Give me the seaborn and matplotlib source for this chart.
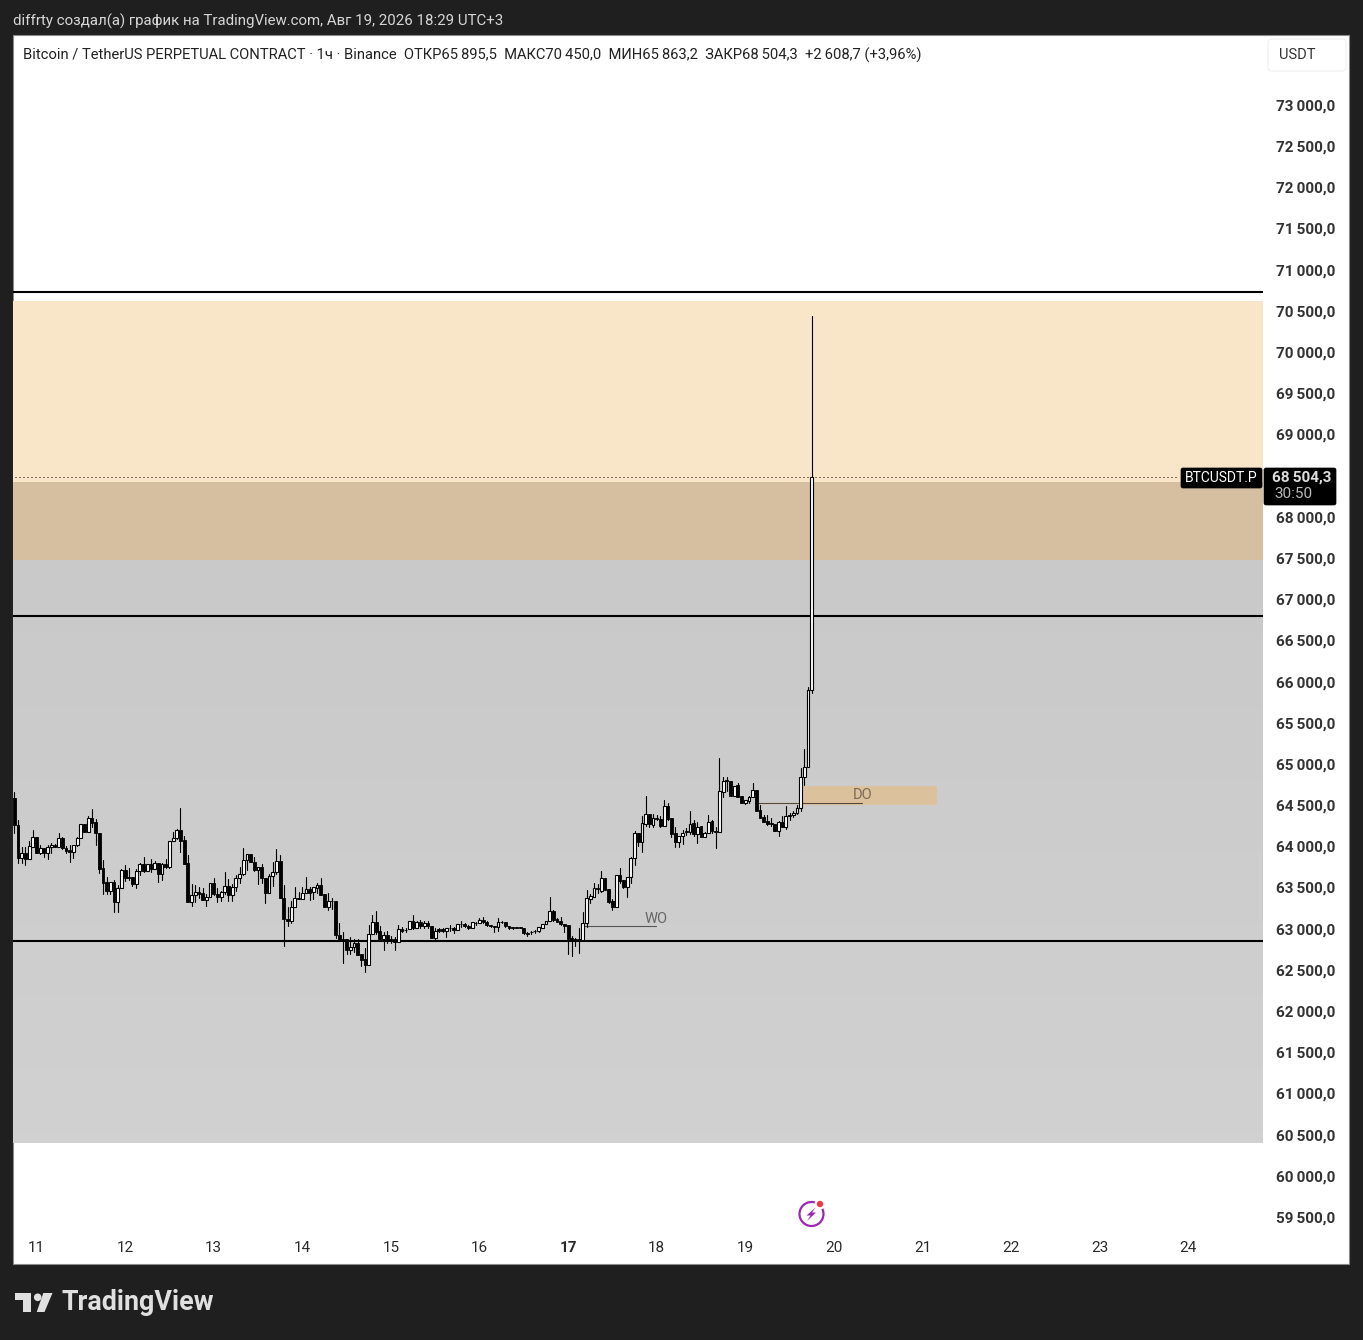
import numpy as np
import pandas as pd
import matplotlib
matplotlib.use("Agg")
import matplotlib.pyplot as plt
import seaborn as sns
from matplotlib.colors import LinearSegmentedColormap
from matplotlib.patches import Arc, Circle, FancyBboxPatch, Polygon, Rectangle

# hourly candles, first one opens on day 10 at 18:00
FIRST_DAY = 10.75

opens = [
    64583, 64259, 63863, 63915, 63850, 63988, 64110, 63923, 63976, 63923,
    63988, 64012, 63996, 64097, 63976, 63952, 63927, 64012, 64097, 64267,
    64178, 64340, 64292, 64158, 63733, 63567, 63462, 63567, 63328, 63490,
    63713, 63628, 63624, 63547, 63697, 63782, 63705, 63782, 63729, 63794,
    63668, 63786, 63753, 64061, 64097, 64194, 64077, 63794, 63328, 63405,
    63442, 63430, 63345, 63381, 63551, 63426, 63389, 63442, 63515, 63409,
    63502, 63612, 63660, 63830, 63903, 63814, 63717, 63745, 63620, 63438,
    63644, 63685, 63818, 63369, 63122, 63098, 63267, 63377, 63365, 63429,
    63478, 63441, 63498, 63530, 63417, 63267, 63340, 63340, 62927, 62879,
    62879, 62741, 62774, 62822, 62689, 62628, 62559, 62936, 63085, 62972,
    62871, 62919, 62879, 62879, 62838, 62992, 62988, 62992, 63097, 63012,
    63077, 63037, 63065, 63033, 62887, 62992, 62992, 62976, 63012, 63008,
    62988, 63057, 63057, 63033, 63004, 63073, 63069, 63101, 63081, 63041,
    63029, 63025, 63081, 63081, 63037, 63017, 63017, 63017, 63012, 62952,
    62964, 62976, 62968, 63012, 63061, 63097, 63211, 63118, 63093, 63061,
    63041, 62883, 62875, 62871, 62859, 63065, 63365, 63389, 63490, 63462,
    63620, 63482, 63332, 63268, 63648, 63591, 63510, 63624, 63854, 64162,
    64057, 64271, 64389, 64263, 64340, 64328, 64247, 64486, 64340, 64158,
    64057, 64130, 64186, 64178, 64279, 64154, 64243, 64117, 64158, 64308,
    64186, 64170, 64664, 64801, 64789, 64615, 64741, 64611, 64526, 64554,
    64599, 64688, 64441, 64356, 64308, 64279, 64271, 64190, 64291, 64239,
    64376, 64376, 64401, 64461, 64838, 64967, 65895.5,
]
closes = [
    64259, 63863, 63915, 63850, 64000, 64110, 63923, 63976, 63923, 63988,
    64012, 63996, 64097, 63976, 63944, 63927, 64012, 64097, 64267, 64178,
    64340, 64280, 64158, 63729, 63559, 63462, 63567, 63328, 63490, 63713,
    63620, 63620, 63539, 63697, 63782, 63701, 63782, 63725, 63794, 63664,
    63782, 63753, 64061, 64097, 64194, 64069, 63790, 63328, 63405, 63442,
    63421, 63345, 63381, 63551, 63426, 63385, 63442, 63515, 63409, 63502,
    63612, 63660, 63830, 63903, 63814, 63713, 63745, 63612, 63438, 63644,
    63685, 63818, 63369, 63122, 63098, 63267, 63369, 63365, 63429, 63478,
    63437, 63502, 63530, 63413, 63267, 63332, 63332, 62927, 62855, 62863,
    62741, 62774, 62822, 62681, 62620, 62559, 62936, 63085, 62960, 62871,
    62919, 62863, 62855, 62838, 62992, 62976, 62980, 63097, 63008, 63077,
    63037, 63065, 63037, 62887, 62976, 62976, 62976, 63012, 63008, 62988,
    63053, 63053, 63033, 63004, 63077, 63065, 63101, 63077, 63041, 63037,
    63025, 63077, 63077, 63033, 63004, 63012, 63012, 63012, 62952, 62936,
    62960, 62968, 63017, 63061, 63097, 63211, 63105, 63085, 63057, 63029,
    62875, 62859, 62859, 62859, 63065, 63369, 63393, 63490, 63482, 63612,
    63474, 63320, 63268, 63648, 63575, 63502, 63624, 63858, 64158, 64057,
    64279, 64389, 64267, 64340, 64336, 64247, 64486, 64336, 64154, 64057,
    64130, 64166, 64174, 64275, 64154, 64239, 64117, 64158, 64300, 64182,
    64174, 64672, 64797, 64789, 64615, 64733, 64603, 64522, 64558, 64599,
    64684, 64433, 64348, 64300, 64271, 64271, 64190, 64291, 64239, 64364,
    64368, 64401, 64461, 64838, 64967, 65895, 68484,
]
highs = [
    64664, 64320, 63988, 63988, 64065, 64199, 64110, 64016, 63976, 64016,
    64037, 64029, 64158, 64118, 64004, 64016, 64012, 64110, 64267, 64267,
    64368, 64449, 64328, 64158, 63834, 63624, 63567, 63591, 63531, 63721,
    63774, 63733, 63624, 63721, 63802, 63875, 63782, 63846, 63826, 63794,
    63794, 63842, 64061, 64170, 64207, 64462, 64126, 63891, 63539, 63531,
    63510, 63490, 63421, 63551, 63620, 63490, 63462, 63693, 63600, 63543,
    63652, 63745, 63976, 63903, 63903, 63867, 63745, 63782, 63620, 63660,
    63806, 63964, 63895, 63527, 63260, 63337, 63502, 63450, 63502, 63624,
    63510, 63510, 63559, 63611, 63417, 63429, 63369, 63340, 63065, 62964,
    62879, 62895, 62871, 62871, 62689, 62762, 63045, 63166, 63219, 63033,
    62964, 62976, 62911, 62903, 63045, 63017, 63008, 63097, 63166, 63097,
    63105, 63093, 63093, 63033, 63008, 63004, 63012, 63012, 63041, 63025,
    63053, 63097, 63065, 63045, 63077, 63085, 63126, 63146, 63089, 63045,
    63037, 63126, 63093, 63085, 63037, 63025, 63021, 63021, 63012, 62960,
    62972, 62988, 63025, 63061, 63097, 63381, 63227, 63126, 63146, 63061,
    63041, 62911, 62883, 63004, 63207, 63470, 63421, 63551, 63543, 63705,
    63620, 63482, 63356, 63648, 63733, 63591, 63624, 63866, 64190, 64162,
    64368, 64615, 64389, 64393, 64380, 64368, 64563, 64530, 64340, 64231,
    64130, 64198, 64219, 64433, 64320, 64300, 64243, 64178, 64380, 64320,
    64239, 65068, 64838, 64838, 64789, 64733, 64765, 64611, 64558, 64611,
    64773, 64688, 64502, 64380, 64380, 64340, 64271, 64308, 64368, 64490,
    64401, 64433, 64502, 64947, 65178, 65930, 70440,
]
lows = [
    64166, 63802, 63802, 63774, 63850, 63988, 63923, 63903, 63867, 63842,
    63923, 63988, 63988, 63964, 63923, 63814, 63863, 64000, 64097, 64170,
    64178, 64239, 64012, 63672, 63417, 63421, 63421, 63207, 63207, 63490,
    63583, 63591, 63519, 63490, 63656, 63693, 63705, 63693, 63721, 63571,
    63591, 63733, 63733, 64061, 64085, 63936, 63790, 63328, 63276, 63328,
    63369, 63345, 63276, 63381, 63409, 63328, 63340, 63421, 63340, 63340,
    63462, 63559, 63648, 63713, 63814, 63705, 63543, 63551, 63308, 63438,
    63523, 63664, 63369, 62794, 63037, 63074, 63267, 63356, 63356, 63429,
    63348, 63356, 63429, 63413, 63267, 63227, 63235, 62883, 62855, 62588,
    62693, 62693, 62721, 62681, 62547, 62478, 62559, 62936, 62936, 62871,
    62741, 62822, 62822, 62741, 62838, 62960, 62964, 62992, 63000, 63004,
    63012, 63004, 63004, 62887, 62871, 62964, 62964, 62895, 62976, 62952,
    62988, 63025, 63025, 62996, 63004, 63045, 63065, 63073, 63037, 63025,
    62964, 62976, 63065, 63025, 62996, 63000, 63008, 63008, 62936, 62911,
    62936, 62952, 62964, 63012, 63057, 63097, 63097, 63081, 63045, 62964,
    62693, 62673, 62790, 62709, 62859, 63025, 63308, 63389, 63429, 63446,
    63474, 63308, 63227, 63268, 63551, 63490, 63389, 63551, 63773, 64004,
    63935, 64247, 64239, 64239, 64320, 64239, 64247, 64320, 64109, 63988,
    63996, 64028, 64138, 64150, 64126, 64036, 64109, 64109, 64158, 64166,
    63976, 64170, 64603, 64676, 64615, 64615, 64603, 64522, 64514, 64522,
    64599, 64433, 64348, 64300, 64259, 64247, 64190, 64125, 64239, 64206,
    64320, 64352, 64393, 64433, 64745, 64967, 65863.2,
]

day_ticks = list(range(11, 25))
# 68 500 is hidden behind the price tag
price_ticks = [p for p in range(59500, 73500, 500) if p != 68500]
level_lines = [70730, 66796, 62851]
zone_cream = (67476, 70620)
zone_gray = (60399, 68429)
last_price = 68484
last_label = "68\u2009504,3"
wo_level = (17.18, 17.99, 63033)
do_level = (19.11, 20.32, 64526)
do_box = (19.63, 21.16, 64502, 64733)

header = "diffrty создал(а) график на TradingView.com, Авг 19, 2026 18:29 UTC+3"
legend = ("Bitcoin / TetherUS PERPETUAL CONTRACT · 1ч · Binance  ОТКР65\u2009895,5  "
          "МАКС70\u2009450,0  МИН65\u2009863,2  ЗАКР68\u2009504,3  +2\u2009608,7 (+3,96%)")

W, H = 1363, 1340
DARK = "#1f1f1f"


def fmt_price(v):
    return f"{v:,.1f}".replace(",", "\u2009").replace(".", ",")


sns.set_theme(style="white")
plt.rcParams["font.family"] = ["Roboto", "DejaVu Sans"]

fig = plt.figure(figsize=(W / 100, H / 100), dpi=100, facecolor=DARK)

# background panel, everything here is in screen pixels
bg = fig.add_axes([0, 0, 1, 1], zorder=0)
bg.set_xlim(0, W)
bg.set_ylim(H, 0)
bg.axis("off")
bg.add_patch(Rectangle((13, 35), 1336, 1229, fc="white", ec="#8a8a8a", lw=0.8))

# main pane
left, right, top, bottom = 13, 1263, 35, 1235
ax = fig.add_axes([left / W, 1 - bottom / H, (right - left) / W, (bottom - top) / H],
                  zorder=1, facecolor="none")

days = FIRST_DAY + np.arange(len(opens)) / 24
df = pd.DataFrame({"day": days, "open": opens, "high": highs, "low": lows, "close": closes})
wicks = df.melt(id_vars="day", value_vars=["high", "low"], value_name="price")

ax.axhspan(*zone_cream, color="#f9e5c8", lw=0, zorder=0)
gradient = LinearSegmentedColormap.from_list("pane", ["#c9c9c9", "#d1d1d1"])
ax.imshow(np.linspace(0, 1, 64).reshape(-1, 1), cmap=gradient, aspect="auto", zorder=0.5,
          extent=(10, 26, zone_gray[0], zone_cream[0]), origin="upper")
ax.axhspan(zone_cream[0], zone_gray[1], color="#d5bfa0", lw=0, zorder=0.6)

for lvl in level_lines:
    ax.axhline(lvl, color="black", lw=1.5, zorder=1)
ax.plot([10, 23.9], [last_price, last_price], color="black", lw=0.72, ls=(0, (1, 3)), zorder=1)

ax.add_patch(Rectangle((do_box[0], do_box[2]), do_box[1] - do_box[0], do_box[3] - do_box[2],
                       fc="#dcc19d", lw=0, zorder=1))
ax.plot(wo_level[:2], [wo_level[2]] * 2, color="#555555", lw=0.8, zorder=1.5)
ax.plot(do_level[:2], [do_level[2]] * 2, color="#5a4a3a", lw=0.8, zorder=1.5)
ax.text(wo_level[1], wo_level[2] + 2, "WO", color="#666666", fontsize=10.5, ha="center", va="bottom")
ax.text(do_level[1], do_box[3] - 22, "DO", color="#7c6a55", fontsize=10.5, ha="center", va="top")

sns.lineplot(data=wicks, x="day", y="price", units="day", estimator=None, sort=False,
             color="black", lw=0.8, legend=False, ax=ax, zorder=2)

up = df[df["close"] >= df["open"]]
down = df[df["close"] < df["open"]]
ax.bar(down["day"], down["open"] - down["close"], bottom=down["close"], width=0.032,
       color="black", edgecolor="black", lw=0.6, zorder=3)
ax.bar(up["day"], up["close"] - up["open"], bottom=up["open"], width=0.032,
       color="white", edgecolor="black", lw=0.8, zorder=3)

ax.set_xlim(11 - 23.5 / 88.6, 11 + 1226.5 / 88.6)
ax.set_ylim(73000 - (bottom - 105) * 12.14, 73000 + (105 - top) * 12.14)
ax.set_xlabel("")
ax.set_ylabel("")
sns.despine(ax=ax, left=True, bottom=True)

ax.yaxis.tick_right()
ax.set_yticks(price_ticks)
ax.set_yticklabels([fmt_price(p) for p in price_ticks], ha="right", fontsize=11,
                   color="#333333", fontweight="bold")
ax.tick_params(axis="y", length=0, pad=52)
ax.set_xticks(day_ticks)
ax.set_xticklabels([str(d) for d in day_ticks], fontsize=11, color="#2a2a2a")
ax.tick_params(axis="x", length=0, pad=4.5)
for lab in ax.get_xticklabels():
    if lab.get_text() == "17":
        lab.set_fontweight("bold")

# chrome on top: titles, price tags, icons
fg = fig.add_axes([0, 0, 1, 1], zorder=2, facecolor="none")
fg.set_xlim(0, W)
fg.set_ylim(H, 0)
fg.axis("off")

fg.text(13, 21, header, color="#d6d6d6", fontsize=10.85, va="center")
fg.text(23, 55, legend, color="#222222", fontsize=10.65, va="center")

fg.add_patch(FancyBboxPatch((1268, 39), 78, 32, boxstyle="round,pad=0,rounding_size=4",
                            fc="white", ec="#f0f0f0", lw=0.8))
fg.text(1279, 55, "USDT", color="#333333", fontsize=10.5, va="center")

fg.add_patch(FancyBboxPatch((1181, 468), 81, 20, boxstyle="round,pad=0,rounding_size=2",
                            fc="black", ec="black", lw=0.5))
fg.text(1221.5, 478.5, "BTCUSDT.P", color="white", fontsize=10, ha="center", va="center")
fg.add_patch(FancyBboxPatch((1264, 468), 72, 37, boxstyle="round,pad=0,rounding_size=2",
                            fc="black", ec="black", lw=0.5))
fg.text(1331, 477.5, last_label, color="#dddddd", fontsize=11, ha="right", va="center",
        fontweight="bold")
fg.text(1274, 494, "30:50", color="#bbbbbb", fontsize=11, va="center")

# lightning badge, ring opens under the red dot
fg.add_patch(Arc((811.5, 1214), 24, 24, theta1=0, theta2=360, ec="#9c27b0", lw=1.6))
fg.add_patch(Polygon([(815.5, 1207.5), (806.5, 1215.5), (810.5, 1215.5), (807, 1221),
                      (816, 1212.5), (812, 1212.5)], fc="#9c27b0", lw=0))
fg.add_patch(Circle((820, 1204), 5.5, fc="white", lw=0))
fg.add_patch(Circle((820, 1204), 3.2, fc="#f23645", lw=0))

# TradingView logo
logo = "#e0e0e0"
fg.add_patch(Polygon([(15, 1293), (31, 1293), (31, 1312), (23, 1312), (23, 1300), (15, 1300)], fc=logo, lw=0))
fg.add_patch(Circle((37.7, 1297.3), 3.8, fc=logo, lw=0))
fg.add_patch(Polygon([(43.3, 1293), (52.5, 1293), (44.5, 1312), (36.7, 1312)], fc=logo, lw=0))
fg.text(62, 1302, "TradingView", color=logo, fontsize=19.4, va="center", family="Roboto", fontweight="bold")

fig.savefig("out.png", dpi=100, facecolor=fig.get_facecolor())
plt.close(fig)
